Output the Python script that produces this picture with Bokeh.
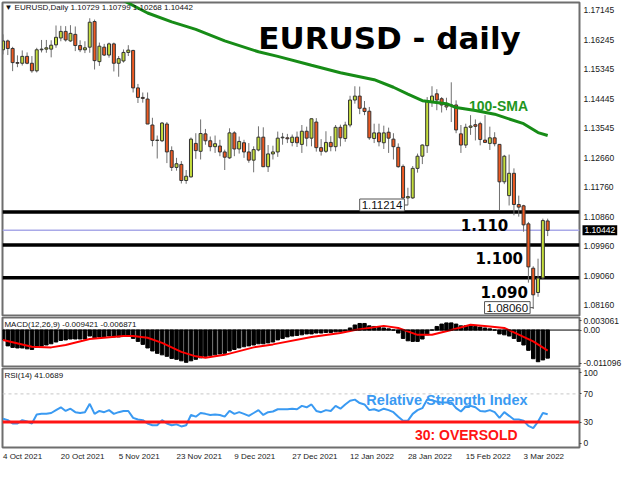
from bokeh.plotting import figure
from bokeh.layouts import column
from bokeh.models import Range1d, FixedTicker, Span, Label, ColumnDataSource, PrintfTickFormatter
from bokeh.embed import file_html
from bokeh.resources import INLINE

# ---------------- data ----------------
tick_idx = [0, 12, 24, 36, 48, 60, 72, 84, 96, 108]
tick_labels = ["4 Oct 2021", "20 Oct 2021", "5 Nov 2021", "23 Nov 2021", "9 Dec 2021",
               "27 Dec 2021", "12 Jan 2022", "28 Jan 2022", "15 Feb 2022", "3 Mar 2022"]

opens = [1.1594,1.1621,1.1598,1.1555,1.1553,1.1574,1.1553,1.1530,1.1594,1.1596,
         1.1596,1.1609,1.1630,1.1650,1.1621,1.1641,1.1607,1.1594,1.1602,1.1680,
         1.1558,1.1602,1.1578,1.1612,1.1553,1.1560,1.1586,1.1592,1.1478,1.1449,
         1.1444,1.1365,1.1318,1.1317,1.1368,1.1287,1.1236,1.1245,1.1196,1.1207,
         1.1309,1.1285,1.1338,1.1317,1.1299,1.1301,1.1283,1.1265,1.1341,1.1292,
         1.1311,1.1283,1.1258,1.1289,1.1328,1.1238,1.1277,1.1283,1.1326,1.1326,
         1.1312,1.1328,1.1306,1.1346,1.1325,1.1374,1.1296,1.1285,1.1312,1.1299,
         1.1358,1.1324,1.1365,1.1441,1.1453,1.1416,1.1407,1.1324,1.1341,1.1311,
         1.1343,1.1322,1.1297,1.1239,1.1143,1.1143,1.1233,1.1270,1.1302,1.1436,
         1.1460,1.1445,1.1420,1.1425,1.1426,1.1338,1.1304,1.1358,1.1366,1.1369,
         1.1319,1.1309,1.1326,1.1306,1.1192,1.1150,1.1218,1.1123,1.1119,1.1064,
         1.0929,1.0855,1.0899,1.10729]
highs = [1.1641,1.1625,1.1603,1.1577,1.1592,1.1586,1.1575,1.1600,1.1624,1.1624,
         1.1623,1.1668,1.1667,1.1666,1.1669,1.1665,1.1623,1.1620,1.1690,1.1686,
         1.1616,1.1612,1.1616,1.1616,1.1575,1.1595,1.1608,1.1594,1.1490,1.1464,
         1.1464,1.1387,1.1333,1.1374,1.1374,1.1300,1.1265,1.1255,1.1228,1.1327,
         1.1340,1.1382,1.1353,1.1330,1.1333,1.1320,1.1290,1.1355,1.1346,1.1330,
         1.1320,1.1310,1.1300,1.1361,1.1358,1.1304,1.1302,1.1345,1.1341,1.1338,
         1.1336,1.1345,1.1365,1.1360,1.1385,1.1386,1.1322,1.1346,1.1331,1.1365,
         1.1366,1.1375,1.1454,1.1483,1.1482,1.1438,1.1420,1.1369,1.1369,1.1363,
         1.1357,1.1340,1.1309,1.1245,1.1174,1.1240,1.1278,1.1306,1.1450,1.1483,
         1.1474,1.1450,1.1448,1.1495,1.1440,1.1365,1.1369,1.1395,1.1382,1.1375,
         1.1395,1.1360,1.1343,1.1306,1.1274,1.1275,1.1233,1.1150,1.1122,1.1070,
         1.0935,1.0958,1.1080,1.10799]
lows = [1.1580,1.1578,1.1529,1.1541,1.1546,1.1550,1.1524,1.1525,1.1586,1.1585,
        1.1571,1.1600,1.1620,1.1619,1.1618,1.1590,1.1587,1.1584,1.1585,1.1534,
        1.1545,1.1575,1.1570,1.1528,1.1512,1.1555,1.1575,1.1464,1.1432,1.1433,
        1.1368,1.1300,1.1263,1.1313,1.1249,1.1225,1.1226,1.1187,1.1186,1.1205,
        1.1262,1.1260,1.1305,1.1285,1.1280,1.1270,1.1228,1.1262,1.1270,1.1278,
        1.1265,1.1250,1.1221,1.1285,1.1237,1.1222,1.1260,1.1268,1.1305,1.1310,
        1.1300,1.1298,1.1280,1.1300,1.1300,1.1284,1.1272,1.1280,1.1285,1.1285,
        1.1300,1.1314,1.1358,1.1430,1.1398,1.1395,1.1320,1.1310,1.1300,1.1292,
        1.1280,1.1260,1.1235,1.1136,1.1121,1.1140,1.1220,1.1246,1.1280,1.1420,
        1.1410,1.1403,1.1410,1.1374,1.1340,1.1280,1.1295,1.1335,1.1318,1.1303,
        1.1310,1.1289,1.1300,1.1106,1.1185,1.1120,1.1090,1.1086,1.1040,1.0885,
        1.0806,1.0842,1.0895,1.10268]
closes = [1.1621,1.1598,1.1555,1.1553,1.1574,1.1553,1.1530,1.1594,1.1596,1.1600,
          1.1608,1.1632,1.1650,1.1624,1.1644,1.1607,1.1594,1.1600,1.1678,1.1561,
          1.1605,1.1578,1.1612,1.1553,1.1567,1.1586,1.1593,1.1478,1.1449,1.1446,
          1.1368,1.1318,1.1319,1.1371,1.1283,1.1236,1.1247,1.1196,1.1209,1.1322,
          1.1287,1.1339,1.1317,1.1299,1.1308,1.1283,1.1267,1.1341,1.1292,1.1315,
          1.1283,1.1258,1.1290,1.1328,1.1238,1.1277,1.1283,1.1325,1.1328,1.1323,
          1.1328,1.1311,1.1346,1.1325,1.1384,1.1296,1.1285,1.1312,1.1299,1.1358,
          1.1326,1.1365,1.1441,1.1453,1.1416,1.1406,1.1326,1.1341,1.1314,1.1341,
          1.1325,1.1299,1.1238,1.1143,1.1147,1.1233,1.1270,1.1304,1.1439,1.1453,
          1.1441,1.1426,1.1425,1.1426,1.1350,1.1304,1.1358,1.1362,1.1361,1.1321,
          1.1312,1.1326,1.1308,1.1192,1.1270,1.1218,1.1123,1.1115,1.1061,1.0933,
          1.0848,1.0899,1.1074,1.10442]

sma_idx = [25, 30, 35, 40, 46, 53, 57, 64, 70, 77, 81, 84, 87, 92, 94, 98, 102, 108, 111, 113]
sma_val = [1.1744, 1.1706, 1.1679, 1.1656, 1.1621, 1.1588, 1.1574, 1.1547, 1.1524, 1.1503,
           1.1480, 1.1459, 1.1439, 1.1430, 1.1418, 1.1409, 1.1398, 1.1369, 1.1342, 1.1333]

macd_hist = [-0.0033,-0.0053,-0.0058,-0.0060,-0.0060,-0.0063,-0.0065,-0.0058,-0.0053,-0.0050,
             -0.0046,-0.0040,-0.0035,-0.0033,-0.0030,-0.0030,-0.0030,-0.0030,-0.0020,-0.0026,
             -0.0023,-0.0023,-0.0020,-0.0023,-0.0023,-0.0020,-0.0020,-0.0028,-0.0038,-0.0048,
             -0.0060,-0.0070,-0.0078,-0.0083,-0.0088,-0.0095,-0.0098,-0.0103,-0.0108,-0.0103,
             -0.0098,-0.0093,-0.0088,-0.0086,-0.0083,-0.0080,-0.0078,-0.0070,-0.0065,-0.0060,
             -0.0056,-0.0053,-0.0050,-0.0046,-0.0046,-0.0043,-0.0040,-0.0033,-0.0028,-0.0023,
             -0.0020,-0.0018,-0.0016,-0.0013,-0.0013,-0.0010,-0.0010,-0.0008,-0.0008,-0.0006,
             -0.0006,-0.0004,0.0007,0.0017,0.0022,0.0022,0.0014,0.0012,0.0010,0.0007,
             0.0004,0.0000,-0.0010,-0.0028,-0.0036,-0.0038,-0.0038,-0.0030,-0.0016,0.0000,
             0.0012,0.0020,0.0024,0.0024,0.0020,0.0014,0.0014,0.0014,0.0012,0.0010,
             0.0007,0.0004,0.0000,-0.0013,-0.0016,-0.0020,-0.0028,-0.0038,-0.0050,-0.0068,
             -0.0096,-0.0106,-0.0100,-0.0094]
signal_idx = [0, 6, 10, 13, 18, 25, 27, 30, 33, 37, 40, 42, 46, 52, 56, 64, 70, 73, 79, 82,
              86, 89, 93, 97, 101, 104, 108, 110, 113]
signal_val = [-0.0033, -0.0056, -0.0058, -0.0050, -0.0030, -0.0020, -0.0020, -0.0026, -0.0043,
              -0.0073, -0.0088, -0.0093, -0.0083, -0.0058, -0.0048, -0.0023, -0.0010, 0.0000,
              0.0014, 0.0007, -0.0016, -0.0016, 0.0000, 0.0018, 0.0012, 0.0007, -0.0023,
              -0.0038, -0.0069]

rsi = [34.8,32.8,28.0,28.0,32.8,30.8,28.0,40.9,41.7,41.7,
       42.9,47.0,51.0,45.8,49.0,44.1,42.9,44.1,55.9,41.7,
       45.8,44.1,47.0,41.7,44.1,45.8,45.8,36.0,33.6,32.8,
       28.0,25.6,25.6,32.8,28.0,25.6,26.8,23.9,25.6,40.1,
       37.7,42.9,41.7,40.1,40.9,40.1,37.7,45.8,41.7,44.1,
       41.7,38.9,42.9,47.0,40.1,44.1,45.0,48.2,48.2,48.2,
       49.0,48.2,53.0,51.0,55.0,45.8,44.1,47.0,45.8,53.0,
       49.0,55.0,60.3,61.9,57.0,55.0,47.0,48.2,45.8,49.0,
       47.0,44.1,37.7,32.0,32.0,41.7,47.0,49.8,61.9,61.1,
       59.0,57.9,57.9,57.9,49.8,45.0,52.2,53.0,51.0,45.8,
       45.0,47.0,44.1,36.0,44.1,38.9,33.6,33.6,32.0,24.7,
       21.5,30.8,42.9,41.07]

price_ticks = [1.17145, 1.16245, 1.15345, 1.14445, 1.13545, 1.12660, 1.11760,
               1.10860, 1.09960, 1.09060, 1.08160]
macd_ticks = [-0.011096, 0.0, 0.003061]
macd_tick_labels = ["-0.011096", "0.00", "0.003061"]
rsi_ticks = [0, 30, 70, 100]
levels = [1.110, 1.100, 1.090]
level_labels = ["1.110", "1.100", "1.090"]
last_price = 1.10442
low_marks = [1.11214, 1.08060]

# ---------------- styling ----------------
BULL = "#c4dd3c"
BEAR = "#ee5a22"
FONT = "Liberation Sans"
HEAVY = "DejaVu Sans"
W, RB, LB = 624, 45, 2
FRAME_W = W - RB - LB

idx = list(range(len(opens)))
xr = Range1d(-0.1, 119.6)
px_per_unit = FRAME_W / (xr.end - xr.start)

# Arial / Liberation Sans advance widths (em) used to left-align the date labels
CW = {" ": 0.278, "O": 0.778, "c": 0.5, "t": 0.278, "N": 0.722, "o": 0.556, "v": 0.5,
      "D": 0.722, "e": 0.556, "J": 0.5, "a": 0.556, "n": 0.556, "F": 0.611, "b": 0.556,
      "M": 0.833, "r": 0.333, ".": 0.278}


def text_w(s, size):
    return size * sum(CW.get(ch, 0.556) for ch in s)


def base(height, yr, top, bottom, xloc=None):
    f = figure(width=W, height=height, x_range=xr, y_range=yr, toolbar_location=None,
               output_backend="svg", x_axis_location=xloc, y_axis_location="right",
               min_border_left=LB, min_border_right=RB, min_border_top=top,
               min_border_bottom=bottom)
    f.grid.visible = False
    f.outline_line_color = "#6e6e6e"
    f.outline_line_width = 2
    f.background_fill_color = "white"
    f.border_fill_color = "white"
    ya = f.yaxis[0]
    ya.axis_line_color = None
    ya.major_tick_out = 2
    ya.major_tick_in = 0
    ya.minor_tick_line_color = None
    ya.major_label_standoff = 2
    ya.major_label_text_font = FONT
    ya.major_label_text_font_size = "8.5px"
    ya.major_label_text_color = "#1a1a1a"
    ya.major_tick_line_color = "#444444"
    return f


# ---------------- main price panel ----------------
p = base(316, Range1d(1.0785, 1.1738), 2, 1)
pax = p.yaxis[0]
pax.ticker = FixedTicker(ticks=price_ticks)
pax.formatter = PrintfTickFormatter(format="%.5f")

for lv in levels:
    p.add_layout(Span(location=lv, dimension="width", line_color="black",
                      line_width=3.5, level="underlay"))
p.add_layout(Span(location=last_price, dimension="width", line_color="#a9a9e8",
                  line_width=1.5, level="underlay"))

src = ColumnDataSource(dict(
    x=idx, hi=highs, lo=lows,
    top=[max(o, c) for o, c in zip(opens, closes)],
    bot=[min(o, c) for o, c in zip(opens, closes)],
    col=[BULL if c >= o else BEAR for o, c in zip(opens, closes)],
))
p.segment(x0="x", y0="hi", x1="x", y1="lo", source=src, line_color="#707070", line_width=1)
p.vbar(x="x", top="top", bottom="bot", width=0.62, fill_color="col",
       line_color="#333333", line_width=1, source=src)
p.line(sma_idx, sma_val, line_color="#178c17", line_width=3)

p.add_layout(Label(x=80.2, y=1.16295, text="EURUSD - daily", text_font=HEAVY,
                   text_font_style="bold", text_font_size="31px", text_align="center",
                   text_baseline="alphabetic", text_color="black"))
p.add_layout(Label(x=102.8, y=1.14243, text="100-SMA", text_font=FONT,
                   text_font_style="bold", text_font_size="14px", text_align="center",
                   text_baseline="alphabetic", text_color="#1f961f"))
for (lx, ly), t in zip([(99.9, 1.10607), (102.96, 1.09610), (103.96, 1.08554)], level_labels):
    p.add_layout(Label(x=lx, y=ly, text=t, text_font=HEAVY, text_font_style="bold",
                       text_font_size="15px", text_align="center",
                       text_baseline="alphabetic", text_color="black"))

# price boxes with connectors
for bx, by, pr in [(74.0, 1.11214, low_marks[0]), (99.9, 1.0809, low_marks[1])]:
    li = min(range(len(lows)), key=lambda k: abs(lows[k] - pr))
    p.add_layout(Label(x=bx, y=by, text=f"{pr:.5f}", text_font=FONT, text_font_size="11.5px",
                       text_align="left", text_baseline="middle", text_color="#111111",
                       background_fill_color="white", border_line_color="#555555",
                       padding=2))
    p.line([bx + 9.2, li, li], [by, by, pr], line_color="#555555", line_width=1)

p.add_layout(Label(x=0.3, y=1.1722, text="\u25bc EURUSD,Daily  1.10729 1.10799 1.10268 1.10442",
                   text_font=FONT, text_font_size="8px", text_align="left",
                   text_baseline="middle", text_color="#111111"))

# current-price box on the price scale: it sits in the right side panel next to the
# frame; the price axis (outer slot) draws its labels back over that same slot.
price_box = Label(x=xr.end, y=last_price, x_offset=3, text=f"{last_price:.5f}",
                  text_font=FONT, text_font_size="8.5px", text_align="left",
                  text_baseline="middle", text_color="white",
                  background_fill_color="black", padding=2)
p.right = [price_box] + [obj for obj in p.right]
pax.major_tick_out = 0
pax.major_tick_line_color = None
pax.major_label_standoff = -31

# ---------------- MACD panel ----------------
m = base(51, Range1d(-0.0122, 0.0042), 1, 1)
m.yaxis[0].ticker = FixedTicker(ticks=macd_ticks)
m.yaxis[0].major_label_overrides = {t: s for t, s in zip(macd_ticks, macd_tick_labels)}
m.add_layout(Span(location=0, dimension="width", line_color="black", line_width=1))
m.vbar(x=idx, top=macd_hist, bottom=0, width=0.72, color="black")
m.line(signal_idx, signal_val, line_color="#ff0000", line_width=2)
m.add_layout(Label(x=0.3, y=0.0019, text="MACD(12,26,9) -0.009421 -0.006871",
                   text_font=FONT, text_font_size="8px", text_align="left",
                   text_baseline="middle", text_color="#111111"))

# ---------------- RSI panel ----------------
r = base(96, Range1d(-6, 106), 1, 15, xloc="below")
r.yaxis[0].ticker = FixedTicker(ticks=rsi_ticks)
xa = r.xaxis[0]
# MT4 draws date labels starting at the bar; shift each label centre by half its width
label_pos = [t + text_w(s, 8) / 2 / px_per_unit for t, s in zip(tick_idx, tick_labels)]
xa.ticker = FixedTicker(ticks=label_pos)
xa.major_label_overrides = {x: s for x, s in zip(label_pos, tick_labels)}
xa.axis_line_color = None
xa.major_tick_out = 3
xa.major_tick_in = 0
xa.major_tick_line_color = None
xa.minor_tick_line_color = None
xa.major_label_standoff = 1
xa.major_label_text_font = FONT
xa.major_label_text_font_size = "8px"
xa.major_label_text_color = "#1a1a1a"

r.add_layout(Span(location=70, dimension="width", line_color="#c8c8c8",
                  line_dash="3 3", line_width=1))
r.add_layout(Span(location=30, dimension="width", line_color="#ff1414", line_width=3))
r.line(idx, rsi, line_color="#3a9af2", line_width=2)
r.add_layout(Label(x=0.3, y=96, text="RSI(14) 41.0689", text_font=FONT, text_font_size="8px",
                   text_align="left", text_baseline="middle", text_color="#111111"))
r.add_layout(Label(x=92.1, y=62, text="Relative Strength Index", text_font=FONT,
                   text_font_style="bold", text_font_size="14.5px", text_align="center",
                   text_baseline="alphabetic", text_color="#3a9af2"))
r.add_layout(Label(x=96.1, y=12, text="30: OVERSOLD", text_font=FONT,
                   text_font_style="bold", text_font_size="14px", text_align="center",
                   text_baseline="alphabetic", text_color="#ff1414"))

layout = column(p, m, r)
open("out.html", "w").write(file_html(layout, INLINE))
